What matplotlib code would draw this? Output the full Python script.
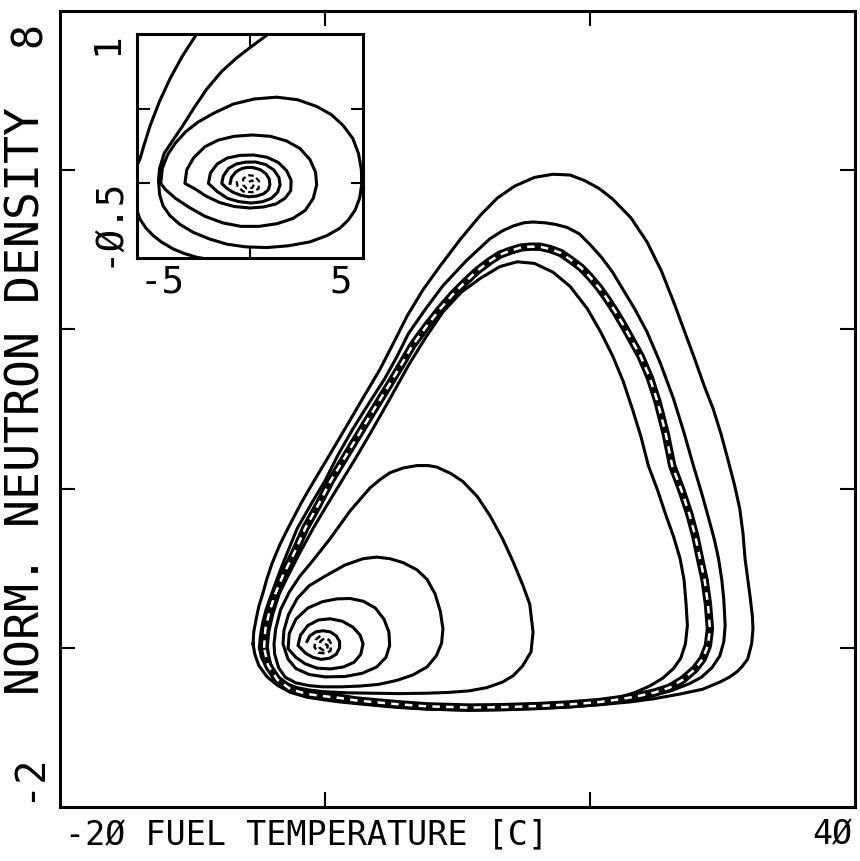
import matplotlib
matplotlib.use("Agg")
import matplotlib.pyplot as plt

# ---- main phase plane: fuel temperature [C] vs normalized neutron density ----
# small dashed core of the spiral around the fixed point
core_x = [0.0, 0.2, 0.15, -0.15, -0.4, -0.35, -0.05, 0.3, 0.5, 0.4, 0.0, -0.5, -0.8, -0.7, -0.3]
core_y = [0.05, 0.03, -0.02, -0.03, 0.0, 0.08, 0.12, 0.1, 0.04, -0.04, -0.07, -0.06, 0.01, 0.1, 0.16]

# trajectory spiralling out of the fixed point towards the limit cycle
spiral_x = [-1.36, -1.15, -0.7, -0.15, 0.4, 0.85, 1.1, 1.1, 0.85, 0.35, -0.3, -0.9, -1.45,
            -2.04, -1.85, -1.3, -0.5, 0.38, 1.3, 2.1, 2.65, 2.87, 2.7, 2.2, 1.4, 0.4, -0.6, -1.5, -2.2,
            -2.79, -2.7, -2.2, -1.3, -0.2, 0.9, 1.89, 2.9, 3.8, 4.45, 4.82, 4.88, 4.6, 3.9, 2.8, 1.5,
            0.0, -1.2, -2.2, -2.8,
            -3.17, -3.1, -2.75, -2.1, -1.2, 0.0, 1.5, 2.87, 3.9, 4.9, 5.9, 6.94, 7.7, 8.3, 8.7, 8.9,
            8.8, 8.4, 7.7, 6.64, 5.4, 4.0, 2.64, 1.2, -0.15, -1.2, -2.2, -3.0, -3.5,
            -3.8, -3.85, -3.72, -3.35, -2.7, -1.9, -1.0, 0.38, 1.89, 3.4, 4.2, 4.9, 5.9, 6.94, 7.8,
            8.45, 9.5, 10.4, 11.5, 12.45, 13.4, 14.2, 14.9, 15.45, 15.7, 15.55, 14.9, 14.2, 13.4,
            12.2, 10.9, 9.3, 7.7, 5.6, 3.6, 1.7, -0.15, -1.2, -2.1, -2.9, -3.5, -4.0, -4.25,
            -4.35, -4.25, -3.95, -3.45, -2.9, -1.95, -0.9, 0.1, 1.13, 2.3, 3.4, 4.9, 6.3, 7.6, 8.9,
            10.3, 11.7, 13.2, 14.5, 15.8, 17.2, 18.5, 19.8, 20.8, 21.7, 22.5, 23.2, 23.85, 24.4,
            25.1, 25.7, 26.3, 26.8, 27.1, 27.25, 27.35, 27.2, 26.85, 26.3, 25.5, 24.5, 23.4, 22.3,
            20.8, 19.2, 16.2, 13.2, 10.4, 7.7, 5.6, 3.6, 2.3, 1.13, -0.15, -1.36, -2.4, -3.2, -3.8,
            -4.3, -4.55, -4.6]
spiral_y = [0.08, 0.15, 0.2, 0.215, 0.2, 0.15, 0.08, 0.0, -0.08, -0.13, -0.145, -0.12, -0.07,
            0.03, 0.16, 0.28, 0.35, 0.365, 0.335, 0.26, 0.16, 0.05, -0.08, -0.18, -0.24, -0.265, -0.255, -0.2, -0.12,
            -0.01, 0.18, 0.36, 0.5, 0.58, 0.615, 0.62, 0.585, 0.5, 0.36, 0.2, 0.03, -0.12, -0.24, -0.32, -0.36,
            -0.365, -0.335, -0.26, -0.14,
            0.05, 0.22, 0.42, 0.62, 0.78, 0.9, 1.04, 1.12, 1.14, 1.12, 1.07, 0.98, 0.86, 0.68, 0.46, 0.24,
            0.06, -0.1, -0.24, -0.34, -0.41, -0.46, -0.48, -0.49, -0.49, -0.475, -0.44, -0.37, -0.25,
            -0.08, 0.05, 0.24, 0.48, 0.7, 0.9, 1.08, 1.37, 1.72, 2.01, 2.12, 2.2, 2.26, 2.29, 2.29,
            2.27, 2.19, 2.09, 1.9, 1.66, 1.37, 1.08, 0.8, 0.55, 0.2, -0.05, -0.23, -0.35, -0.43,
            -0.5, -0.54, -0.56, -0.57, -0.575, -0.57, -0.565, -0.55, -0.53, -0.5, -0.45, -0.37, -0.26, -0.12,
            0.02, 0.2, 0.42, 0.68, 0.87, 1.18, 1.5, 1.78, 2.06, 2.38, 2.69, 3.13, 3.55, 3.9, 4.22,
            4.47, 4.64, 4.79, 4.85, 4.83, 4.72, 4.54, 4.26, 3.97, 3.67, 3.35, 3.0, 2.65, 2.29,
            1.98, 1.68, 1.4, 1.12, 0.85, 0.55, 0.28, 0.05, -0.13, -0.26, -0.38, -0.48, -0.56, -0.62,
            -0.66, -0.69, -0.72, -0.73, -0.735, -0.72, -0.7, -0.67, -0.64, -0.6, -0.575, -0.55, -0.5, -0.43, -0.33,
            -0.19, -0.05, 0.0]

# limit cycle
cycle_x = [-4.6, -4.5, -4.2, -3.75, -3.2, -2.3, -1.5, -0.5, 0.4, 1.6, 2.8, 3.9, 4.9, 5.8, 6.6,
           7.7, 8.7, 9.7, 10.6, 11.5, 12.45, 13.2, 14.0, 14.8, 15.5, 16.2, 17.0, 17.8, 18.5,
           19.3, 20.0, 20.7, 21.3, 22.0, 22.6, 23.2, 23.8, 24.5, 25.1, 25.7, 26.2, 26.9, 27.5,
           27.95, 28.3, 28.65, 28.9, 29.05, 28.9, 28.5, 27.9, 27.0, 26.0, 24.9, 23.8, 22.3,
           20.75, 18.5, 16.2, 13.5, 10.9, 7.7, 5.6, 3.6, 2.3, 1.13, -0.2, -1.36, -2.6, -3.6,
           -4.3, -4.6]
cycle_y = [0.0, 0.24, 0.45, 0.68, 0.9, 1.2, 1.5, 1.8, 2.09, 2.42, 2.75, 3.05, 3.32, 3.57, 3.8,
           4.05, 4.26, 4.45, 4.6, 4.74, 4.86, 4.94, 4.99, 5.03, 5.04, 5.04, 5.01, 4.96, 4.88,
           4.78, 4.66, 4.52, 4.38, 4.2, 4.03, 3.85, 3.67, 3.4, 3.09, 2.7, 2.29, 1.98, 1.68,
           1.4, 1.12, 0.85, 0.55, 0.24, 0.03, -0.14, -0.27, -0.4, -0.5, -0.56, -0.6, -0.645,
           -0.68, -0.71, -0.73, -0.745, -0.75, -0.735, -0.71, -0.68, -0.66, -0.63, -0.605, -0.58, -0.52, -0.4,
           -0.22, 0.0]

# trajectory coming in from outside: first and second turn
outer_x = [-5.43, -5.38, -5.2, -5.0, -4.7, -4.4, -4.0, -3.4, -2.8, -1.8, -0.75, 0.4, 1.5, 2.8,
           4.15, 5.2, 6.2, 7.4, 8.7, 10.2, 11.7, 13.0, 14.3, 15.8, 17.2, 18.5, 19.6, 20.7, 21.7,
           23.1, 24.3, 25.4, 26.3, 27.1, 27.9, 28.6, 29.3, 29.9, 30.4, 30.9, 31.3, 31.55, 31.7,
           31.9, 32.1, 32.25, 32.3, 32.2, 31.9, 31.5, 31.1, 30.5, 29.8, 28.5, 26.8, 24.8, 23.0,
           21.0, 18.6, 16.2, 13.5, 10.9, 7.7, 5.6, 3.6, 1.13, -0.2, -1.36, -2.6, -3.6, -4.4, -5.0,
           -5.3, -5.43]
outer_y = [0.05, 0.2, 0.36, 0.52, 0.68, 0.86, 1.06, 1.3, 1.5, 1.82, 2.12, 2.44, 2.75, 3.12,
           3.5, 3.84, 4.17, 4.5, 4.8, 5.13, 5.43, 5.65, 5.8, 5.91, 5.95, 5.94, 5.87, 5.77, 5.64,
           5.4, 5.1, 4.73, 4.35, 3.99, 3.63, 3.3, 3.0, 2.68, 2.37, 2.05, 1.75, 1.43, 1.12,
           0.87, 0.62, 0.4, 0.24, 0.05, -0.14, -0.23, -0.3, -0.37, -0.43, -0.52, -0.58, -0.64, -0.68,
           -0.71, -0.74, -0.76, -0.775, -0.785, -0.77, -0.75, -0.72, -0.68, -0.65, -0.62, -0.56, -0.47, -0.36, -0.22,
           -0.08, 0.05]
second_x = [-4.95, -4.88, -4.7, -4.45, -4.2, -3.7, -3.2, -2.1, -1.0, 0.0, 1.0, 2.1, 3.3, 4.5,
            5.4, 6.3, 7.6, 8.9, 10.7, 12.45, 13.4, 14.2, 15.0, 15.7, 16.6, 17.4, 18.3, 19.2, 20.1,
            20.9, 21.7, 22.5, 23.4, 24.3, 25.3, 26.3, 27.1, 27.8, 28.45, 29.0, 29.4, 29.7, 29.95,
            30.1, 30.2, 30.1, 29.8, 29.2, 28.4, 27.5, 26.1, 24.5, 22.6, 20.75, 18.5, 16.2, 13.5,
            10.9, 7.7, 5.6, 3.6, 1.13, -0.2, -1.36, -2.6, -3.6, -4.35, -4.8, -4.95]
second_y = [0.0, 0.15, 0.32, 0.48, 0.6, 0.83, 1.05, 1.5, 1.82, 2.1, 2.43, 2.75, 3.07, 3.38,
            3.65, 3.95, 4.26, 4.55, 4.87, 5.14, 5.24, 5.3, 5.34, 5.35, 5.34, 5.32, 5.28, 5.2, 5.05,
            4.9, 4.72, 4.5, 4.25, 3.97, 3.58, 3.13, 2.7, 2.29, 1.93, 1.6, 1.35, 1.12, 0.85,
            0.6, 0.28, 0.08, -0.1, -0.25, -0.37, -0.45, -0.54, -0.61, -0.67, -0.7, -0.73, -0.75, -0.765,
            -0.77, -0.755, -0.73, -0.705, -0.66, -0.63, -0.6, -0.53, -0.42, -0.27, -0.12, 0.0]

# ---- inset: close-up of the spiral near the fixed point ----
ins_core_x = [-0.05, 0.1, 0.2, 0.1, -0.15, -0.3, -0.3, -0.1, 0.2, 0.4, 0.38, 0.1, -0.3, -0.55, -0.6]
ins_core_y = [0.01, 0.02, 0.0, -0.03, -0.035, -0.01, 0.03, 0.055, 0.05, 0.015, -0.035, -0.06, -0.055, -0.02, 0.02]

ins_spiral_x = [-0.88, -0.82, -0.62, -0.35, -0.1, 0.15, 0.45, 0.7, 0.85, 0.88, 0.8, 0.6, 0.3,
                -0.05, -0.4, -0.75, -1.05,
                -1.25, -1.18, -0.95, -0.6, -0.2, 0.25, 0.7, 1.05, 1.28, 1.33, 1.22, 0.95, 0.55,
                0.05, -0.5, -1.0, -1.45,
                -1.84, -1.75, -1.45, -1.0, -0.45, 0.15, 0.75, 1.25, 1.62, 1.82, 1.8, 1.55, 1.15,
                0.6, 0.0, -0.7, -1.35, -1.95, -2.4,
                -2.88, -2.8, -2.5, -2.0, -1.4, -0.7, 0.1, 0.9, 1.6, 2.2, 2.65, 2.9, 2.95, 2.8,
                2.45, 1.9, 1.2, 0.4, -0.4, -1.2, -2.0, -2.7, -3.3, -3.75,
                -3.95, -3.88, -3.65, -3.3, -2.85, -2.3, -1.6, -0.74, 0.2, 1.18, 2.1, 2.95, 3.6,
                4.13, 4.55, 4.8, 4.93, 4.94, 4.85, 4.65, 4.35, 3.98, 3.4, 2.65, 1.7, 0.74, -0.2,
                -1.03, -1.8, -2.51, -3.1, -3.54, -3.85, -4.0,
                -4.05, -4.0, -3.8, -3.45, -3.0, -2.5, -1.92, -1.25, -0.59, 0.1, 0.81, 1.6]
ins_spiral_y = [0.0, 0.04, 0.078, 0.1, 0.107, 0.105, 0.092, 0.065, 0.03, -0.01, -0.045, -0.07, -0.085,
                -0.09, -0.08, -0.06, -0.03,
                0.0, 0.05, 0.1, 0.13, 0.142, 0.143, 0.125, 0.09, 0.04, -0.01, -0.06, -0.1, -0.123,
                -0.132, -0.122, -0.1, -0.055,
                0.0, 0.07, 0.13, 0.17, 0.187, 0.19, 0.175, 0.14, 0.085, 0.02, -0.05, -0.1, -0.138,
                -0.158, -0.165, -0.155, -0.128, -0.085, -0.04,
                0.0, 0.09, 0.17, 0.245, 0.29, 0.315, 0.324, 0.315, 0.285, 0.235, 0.16, 0.075, -0.01, -0.1,
                -0.18, -0.235, -0.27, -0.288, -0.288, -0.265, -0.22, -0.16, -0.1, -0.04,
                0.0, 0.1, 0.19, 0.27, 0.345, 0.41, 0.47, 0.531, 0.565, 0.577, 0.56, 0.515, 0.46,
                0.386, 0.3, 0.2, 0.09, -0.01, -0.1, -0.18, -0.245, -0.3, -0.35, -0.392, -0.418, -0.43, -0.425,
                -0.407, -0.372, -0.328, -0.275, -0.217, -0.15, -0.075,
                0.02, 0.1, 0.2, 0.28, 0.38, 0.5, 0.63, 0.75, 0.84, 0.92, 1.0, 1.08]

ins_outer_x = [-1.0, -2.36, -2.9, -3.39, -3.9, -4.28, -4.6, -4.87, -5.05, -5.15, -5.12, -5.0,
               -4.87, -4.7, -4.42, -4.0, -3.54, -3.0, -2.36, -1.7]
ins_outer_y = [-0.53, -0.495, -0.47, -0.44, -0.395, -0.35, -0.3, -0.24, -0.16, -0.05, 0.05, 0.12,
               0.163, 0.25, 0.386, 0.55, 0.70, 0.85, 1.0, 1.15]

mono = "DejaVu Sans Mono"
lw = 2.2

fig = plt.figure(figsize=(8.6, 8.62), dpi=100)
ax = fig.add_axes([0.0698, 0.0626, 0.9244, 0.9234])
ax.plot(core_x, core_y, color="black", lw=1.8, ls=(0, (2.5, 1.5)))
for xs, ys in [(spiral_x, spiral_y), (outer_x, outer_y), (second_x, second_y)]:
    ax.plot(xs, ys, color="black", lw=lw, solid_joinstyle="round")
ax.plot(cycle_x, cycle_y, color="black", lw=6.0, solid_joinstyle="round")
ax.plot(cycle_x, cycle_y, color="white", lw=1.8, ls=(0, (3, 2.5)))
ax.set_xlim(-20, 40)
ax.set_ylim(-2, 8)
ax.set_xticks([0, 20])
ax.set_yticks([0, 2, 4, 6])
ax.tick_params(direction="in", length=11, width=1.5, top=True, right=True,
               labelbottom=False, labelleft=False)
for s in ax.spines.values():
    s.set_linewidth(2.2)

# axis annotations in the plotter style: end values + title in one row
fig.text(0.0756, 0.031, "-2Ø FUEL TEMPERATURE [C]", family=mono, fontsize=24, ha="left", va="center")
fig.text(0.991, 0.031, "4Ø", family=mono, fontsize=24, ha="right", va="center")
fig.text(0.033, 0.975, "8", family=mono, fontsize=30, rotation=90, ha="center", va="top")
fig.text(0.031, 0.535, "NORM. NEUTRON DENSITY", family=mono, fontsize=33.5, rotation=90, ha="center", va="center")
fig.text(0.032, 0.071, "-2", family=mono, fontsize=29, rotation=90, ha="center", va="bottom")

ins = fig.add_axes([0.1593, 0.6995, 0.2628, 0.2599])
ins.plot(ins_core_x, ins_core_y, color="black", lw=1.6, ls=(0, (2.5, 1.5)))
ins.plot(ins_spiral_x, ins_spiral_y, color="black", lw=lw, solid_joinstyle="round")
ins.plot(ins_outer_x, ins_outer_y, color="black", lw=lw, solid_joinstyle="round")
ins.set_xlim(-5, 5)
ins.set_ylim(-0.5, 1)
ins.set_xticks([0])
ins.set_yticks([0, 0.5])
ins.tick_params(direction="in", length=9, width=1.5, top=True, right=True,
                labelbottom=False, labelleft=False)
for s in ins.spines.values():
    s.set_linewidth(2.2)

fig.text(0.162, 0.672, "-5", family=mono, fontsize=27, ha="left", va="center")
fig.text(0.409, 0.672, "5", family=mono, fontsize=27, ha="right", va="center")
fig.text(0.1244, 0.963, "1", family=mono, fontsize=27, rotation=90, ha="center", va="top")
fig.text(0.1244, 0.69, "-Ø.5", family=mono, fontsize=27, rotation=90, ha="center", va="bottom")

fig.savefig("out.png", dpi=100)
